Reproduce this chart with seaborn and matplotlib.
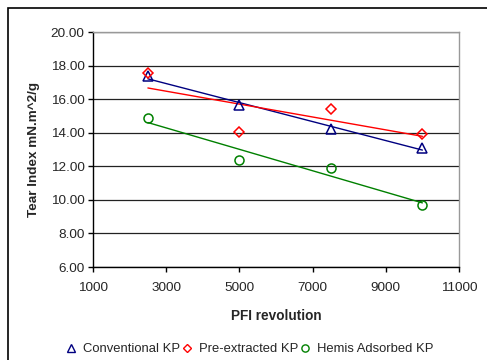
import matplotlib
matplotlib.use("Agg")
import matplotlib.pyplot as plt
import seaborn as sns
import numpy as np
import pandas as pd
from matplotlib.patches import Rectangle
from matplotlib.lines import Line2D

revolutions = [2500, 5000, 7500, 10000]
conventional = [17.35, 15.65, 14.25, 13.1]
pre_extracted = [17.55, 14.05, 15.4, 13.9]
hemis = [14.85, 12.4, 11.9, 9.7]
series_names = ["Conventional KP", "Pre-extracted KP", "Hemis Adsorbed KP"]
colors = ["#000080", "#ff0000", "#008000"]
markers = ["^", "D", "o"]
msizes = [7, 5.5, 6.5]
x_ticks = [1000, 3000, 5000, 7000, 9000, 11000]
y_ticks = [6, 8, 10, 12, 14, 16, 18, 20]

sns.set_style("white")
plt.rcParams["font.family"] = ["Liberation Sans", "DejaVu Sans"]

fig = plt.figure(figsize=(4.87, 3.6), dpi=100)
ax = fig.add_axes([93/487, 1-267/360, (459-93)/487, (267-32)/360])

for name, vals, c, m, ms in zip(series_names, [conventional, pre_extracted, hemis], colors, markers, msizes):
    df = pd.DataFrame({"x": revolutions, "y": vals})
    sns.regplot(data=df, x="x", y="y", ax=ax, ci=None, scatter=False,
                line_kws=dict(color=c, lw=1.0, zorder=3))
    ax.plot(df["x"], df["y"], linestyle="none", marker=m, markersize=ms,
            markerfacecolor="none", markeredgecolor=c, markeredgewidth=1.1, zorder=4)

ax.set_xlim(1000, 11000)
ax.set_ylim(6, 20)
ax.set_xticks(x_ticks)
ax.set_yticks(y_ticks)
ax.set_yticklabels([f"{v:.2f}" for v in y_ticks])
ax.set_xticklabels([str(v) for v in x_ticks])
ax.yaxis.grid(True, color="#222222", lw=0.9)
ax.set_axisbelow(True)
for s in ["left", "bottom"]:
    ax.spines[s].set_color("black")
    ax.spines[s].set_linewidth(1.0)
for s in ["top", "right"]:
    ax.spines[s].set_color("#999999")
    ax.spines[s].set_linewidth(1.0)
ax.tick_params(axis="both", direction="out", length=3.5, width=1, color="black",
               labelsize=9.7, bottom=True, left=True)
ax.tick_params(axis="x", pad=7)
ax.tick_params(axis="y", pad=2.5)
ax.set_xlabel("PFI revolution", fontsize=9.8, fontweight="bold", labelpad=11)
ax.set_ylabel("Tear Index mN.m^2/g", fontsize=9.7, fontweight="bold", labelpad=8)

handles = [Line2D([], [], linestyle="none", marker=m, markersize=ms*0.8,
                  markerfacecolor="none", markeredgecolor=c, markeredgewidth=1.0)
           for m, c, ms in zip(markers, colors, msizes)]
fig.legend(handles, series_names, loc="center", bbox_to_anchor=(250/487, 1-349/360),
           ncol=3, frameon=False, fontsize=9.4, handletextpad=0.6, columnspacing=0.25,
           handlelength=0.6)

fig.patches.append(Rectangle((8/487, -0.1), 1.0, 1-8/360+0.1, transform=fig.transFigure,
                             fill=False, edgecolor="black", lw=1.2))

fig.savefig("out.png", dpi=100)
